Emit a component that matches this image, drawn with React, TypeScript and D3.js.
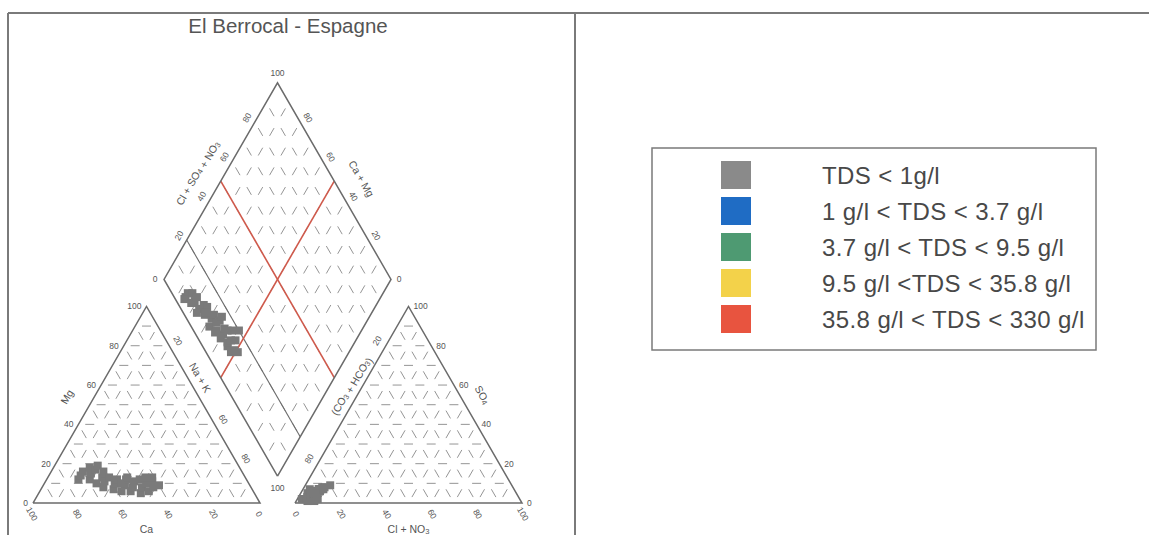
import React from "react";
import * as d3 from "d3";

// ---- Chart content ----
const chartTitle = "El Berrocal - Espagne";

// Cations, % meq (Ca + Mg + Na+K = 100)
const sampleCa = [74, 72, 70, 69, 67, 66, 64, 62, 61, 63, 67, 65, 63, 61, 59, 58, 57, 55, 54, 53, 52, 50, 50, 48, 47, 46, 45, 44, 43, 42, 41, 40, 60, 56, 52];
const sampleMg = [12, 14, 16, 12, 15, 18, 17, 19, 16, 13, 10, 8, 11, 7, 10, 6, 12, 9, 6, 12, 8, 5, 11, 8, 12, 6, 10, 13, 8, 11, 13, 9, 13, 10, 13];
const sampleNaK = [14, 14, 14, 19, 18, 16, 19, 19, 23, 24, 23, 27, 26, 32, 31, 36, 31, 36, 40, 35, 40, 45, 39, 44, 41, 48, 45, 43, 49, 47, 46, 51, 27, 34, 35];

// Anions, % meq (HCO3 + SO4 + Cl = 100)
const sampleHCO3 = [95, 93, 96, 92, 94, 91, 93, 90, 92, 89, 94, 91, 88, 92, 89, 90, 87, 91, 88, 86, 90, 89, 86, 88, 85, 89, 86, 83, 87, 84, 80, 86, 90, 88, 84];
const sampleSO4 = [2, 3, 2, 4, 2, 4, 3, 5, 3, 5, 1, 4, 6, 5, 5, 4, 6, 1, 6, 7, 7, 5, 6, 6, 7, 2, 7, 8, 6, 8, 9, 7, 6, 5, 7];
const sampleCl = [3, 4, 2, 4, 4, 5, 4, 5, 5, 6, 5, 5, 6, 3, 6, 6, 7, 8, 6, 7, 3, 6, 8, 6, 8, 9, 7, 9, 7, 8, 11, 7, 4, 7, 9];

const legendLabels = [
  "TDS < 1g/l",
  "1 g/l < TDS < 3.7 g/l",
  "3.7 g/l < TDS < 9.5 g/l",
  "9.5 g/l <TDS < 35.8 g/l",
  "35.8 g/l < TDS < 330 g/l",
];
const legendColors = ["#8a8a8a", "#1f6cc4", "#4e9a72", "#f3d24a", "#e8543f"];

const tickValues = [0, 20, 40, 60, 80, 100];
const gridValues = d3.range(10, 100, 10);

// ---- Geometry ----
const W = 1149;
const HGT = 535;
const S = 227; // side of triangles and diamond
const H = (S * Math.sqrt(3)) / 2;
const BASE = 503;
const LEFT_X0 = 33;
const RIGHT_X0 = 295;
const DIAMOND_BX = 277.5;
const DIAMOND_BY = 476;

const FONT = "'Liberation Sans', Arial, Helvetica, sans-serif";
const EDGE = "#6b6b6b";
const GRID = "#959595";
const TXT = "#555";
const MARK = "#7a7a7a";

type Pt = [number, number];

// ternary triangle: a = component toward right vertex, t = component toward top vertex
function triangle(x0: number) {
  const xs = d3.scaleLinear().domain([0, 100]).range([x0, x0 + S]);
  const ys = d3.scaleLinear().domain([0, 100]).range([BASE, BASE - H]);
  return (a: number, t: number): Pt => [xs(a + t / 2), ys(t)];
}

// diamond: an = Cl+SO4 (toward right vertex), ca = Ca+Mg (toward left vertex)
const dX = d3.scaleLinear().domain([-100, 100]).range([DIAMOND_BX - S / 2, DIAMOND_BX + S / 2]);
const dY = d3.scaleLinear().domain([0, 200]).range([DIAMOND_BY, DIAMOND_BY - 2 * H]);
const diamond = (an: number, ca: number): Pt => [dX(an - ca), dY(an + ca)];

const cation = triangle(LEFT_X0);
const anion = triangle(RIGHT_X0);

const line = d3.line<Pt>();

const OUT_LEFT_UP: Pt = [-0.866, -0.5];
const OUT_RIGHT_UP: Pt = [0.866, -0.5];

function off(p: Pt, n: Pt, d: number): Pt {
  return [p[0] + n[0] * d, p[1] + n[1] * d];
}

const Label = ({ p, rot = 0, size = 8.5, anchor = "middle", children }: any) => (
  <text
    transform={`translate(${p[0]},${p[1]}) rotate(${rot})`}
    textAnchor={anchor}
    dominantBaseline="central"
    fontSize={size}
    fill={TXT}
    fontFamily={FONT}
  >
    {children}
  </text>
);

const Sub = ({ children }: any) => (
  <tspan fontSize="0.72em" dy="0.25em">
    {children}
  </tspan>
);

function triGrid(P: (a: number, t: number) => Pt) {
  const segs: Pt[][] = [];
  gridValues.forEach((k) => {
    segs.push([P(0, k), P(100 - k, k)]);
    segs.push([P(k, 0), P(k, 100 - k)]);
    segs.push([P(100 - k, 0), P(0, 100 - k)]);
  });
  return segs;
}

function diamondGrid() {
  const segs: Pt[][] = [];
  gridValues.forEach((k) => {
    segs.push([diamond(k, 0), diamond(k, 100)]);
    segs.push([diamond(0, k), diamond(100, k)]);
  });
  return segs;
}

const period = S / 10;
const dashLen = 9;
const gridStyle = {
  stroke: GRID,
  strokeWidth: 1,
  fill: "none",
  strokeDasharray: `${dashLen} ${period - dashLen}`,
  strokeDashoffset: -(period - dashLen) / 2,
};

const MS = 8; // marker size

export default function App() {
  const samples = d3.range(sampleCa.length);

  const leftOutline: Pt[] = [cation(0, 0), cation(100, 0), cation(0, 100), cation(0, 0)];
  const rightOutline: Pt[] = [anion(0, 0), anion(100, 0), anion(0, 100), anion(0, 0)];
  const diamondOutline: Pt[] = [diamond(0, 0), diamond(100, 0), diamond(100, 100), diamond(0, 100), diamond(0, 0)];

  return (
    <svg width={W} height={HGT} style={{ display: "block", position: "absolute", left: 0, top: 0 }}>
      <rect x={0} y={0} width={W} height={HGT} fill="#fff" />
      {/* table frame */}
      <line x1={8} y1={13} x2={W} y2={13} stroke="#7a7a7a" strokeWidth={2} />
      <line x1={8} y1={13} x2={8} y2={HGT} stroke="#7a7a7a" strokeWidth={2} />
      <line x1={575} y1={13} x2={575} y2={HGT} stroke="#7a7a7a" strokeWidth={2} />

      <text x={288} y={33} textAnchor="middle" fontSize={20.5} fill={TXT} fontFamily={FONT}>
        {chartTitle}
      </text>

      {/* grids */}
      {triGrid(cation).map((s, i) => (
        <path key={"gl" + i} d={line(s) || ""} {...gridStyle} />
      ))}
      {triGrid(anion).map((s, i) => (
        <path key={"gr" + i} d={line(s) || ""} {...gridStyle} />
      ))}
      {diamondGrid().map((s, i) => (
        <path key={"gd" + i} d={line(s) || ""} {...gridStyle} />
      ))}

      {/* 20 % Cl+SO4 divider and 50 % lines in the diamond */}
      <path d={line([diamond(20, 0), diamond(20, 100)]) || ""} stroke={EDGE} strokeWidth={1.1} fill="none" />
      <path d={line([diamond(50, 0), diamond(50, 100)]) || ""} stroke="#cf5a4c" strokeWidth={1.6} fill="none" />
      <path d={line([diamond(0, 50), diamond(100, 50)]) || ""} stroke="#cf5a4c" strokeWidth={1.6} fill="none" />

      {/* outlines */}
      <path d={line(leftOutline) || ""} stroke={EDGE} strokeWidth={1.5} fill="none" />
      <path d={line(rightOutline) || ""} stroke={EDGE} strokeWidth={1.5} fill="none" />
      <path d={line(diamondOutline) || ""} stroke={EDGE} strokeWidth={1.5} fill="none" />

      {/* cation triangle labels */}
      {tickValues.map((v) => (
        <Label key={"mg" + v} p={off(cation(0, v), [-1, 0], 5)} anchor="end">
          {v}
        </Label>
      ))}
      {tickValues.map((v) => (
        <Label key={"ca" + v} p={[cation(100 - v, 0)[0] - 1, BASE + 11]} rot={60}>
          {v}
        </Label>
      ))}
      {[20, 60, 80].map((v) => (
        <Label key={"nk" + v} p={off(cation(v, 100 - v), OUT_RIGHT_UP, 10)} rot={60}>
          {v}
        </Label>
      ))}
      <Label p={off(cation(39, 61), OUT_RIGHT_UP, 11)} rot={60} size={10.5}>
        Na + K
      </Label>
      <Label p={off(cation(0, 48), OUT_LEFT_UP, 24)} rot={-60} size={10.5}>
        Mg
      </Label>
      <Label p={[cation(50, 0)[0], BASE + 26]} size={10.5}>
        Ca
      </Label>

      {/* anion triangle labels */}
      {tickValues.map((v) => (
        <Label key={"so" + v} p={off(anion(100 - v, v), [1, 0], 5)} anchor="start">
          {v}
        </Label>
      ))}
      {tickValues.map((v) => (
        <Label key={"cl" + v} p={[anion(v, 0)[0] + 1, BASE + 11]} rot={60}>
          {v}
        </Label>
      ))}
      {[20, 80].map((v) => (
        <Label key={"hc" + v} p={off(anion(0, 100 - v), OUT_LEFT_UP, 10)} rot={-60}>
          {v}
        </Label>
      ))}
      <Label p={off(anion(0, 57), OUT_LEFT_UP, 11)} rot={-60} size={10.5}>
        (CO<Sub>3</Sub> + HCO<Sub>3</Sub>)
      </Label>
      <Label p={off(anion(50, 50), OUT_RIGHT_UP, 20)} rot={60} size={10.5}>
        SO<Sub>4</Sub>
      </Label>
      <Label p={[anion(50, 0)[0], BASE + 26]} size={10.5}>
        Cl + NO<Sub>3</Sub>
      </Label>

      {/* diamond labels */}
      {[20, 40, 60, 80].map((v) => (
        <Label key={"dl" + v} p={off(diamond(v, 100), OUT_LEFT_UP, 9)} rot={-60}>
          {v}
        </Label>
      ))}
      {[20, 40, 60, 80].map((v) => (
        <Label key={"dr" + v} p={off(diamond(100, v), OUT_RIGHT_UP, 9)} rot={60}>
          {v}
        </Label>
      ))}
      <Label p={off(diamond(48, 100), OUT_LEFT_UP, 25)} rot={-60} size={10.5}>
        Cl + SO<Sub>4</Sub> + NO<Sub>3</Sub>
      </Label>
      <Label p={off(diamond(100, 45), OUT_RIGHT_UP, 25)} rot={60} size={10.5}>
        Ca + Mg
      </Label>
      <Label p={off(diamond(0, 100), [-1, 0], 9)}>0</Label>
      <Label p={off(diamond(100, 0), [1, 0], 8)}>0</Label>
      <Label p={off(diamond(100, 100), [0, -1], 10)}>100</Label>
      <Label p={off(diamond(0, 0), [0, 1], 12)}>100</Label>

      {/* samples */}
      {samples.map((i) => {
        const p = cation(sampleNaK[i], sampleMg[i]);
        return <rect key={"pc" + i} x={p[0] - MS / 2} y={p[1] - MS / 2} width={MS} height={MS} fill={MARK} />;
      })}
      {samples.map((i) => {
        const p = anion(sampleCl[i], sampleSO4[i]);
        return <rect key={"pa" + i} x={p[0] - MS / 2} y={p[1] - MS / 2} width={MS} height={MS} fill={MARK} />;
      })}
      {samples.map((i) => {
        const p = diamond(sampleCl[i] + sampleSO4[i], sampleCa[i] + sampleMg[i]);
        return <rect key={"pd" + i} x={p[0] - MS / 2} y={p[1] - MS / 2} width={MS} height={MS} fill={MARK} />;
      })}

      {/* legend */}
      <rect x={652} y={148} width={444} height={202} fill="none" stroke="#7a7a7a" strokeWidth={1.5} />
      {legendLabels.map((lab, i) => (
        <g key={"lg" + i}>
          <rect x={721} y={161 + i * 36} width={30} height={28} fill={legendColors[i]} />
          <text
            x={822}
            y={175 + i * 36}
            dominantBaseline="central"
            fontSize={24}
            letterSpacing={0.4}
            fill="#484848"
            fontFamily={FONT}
          >
            {lab}
          </text>
        </g>
      ))}
    </svg>
  );
}
